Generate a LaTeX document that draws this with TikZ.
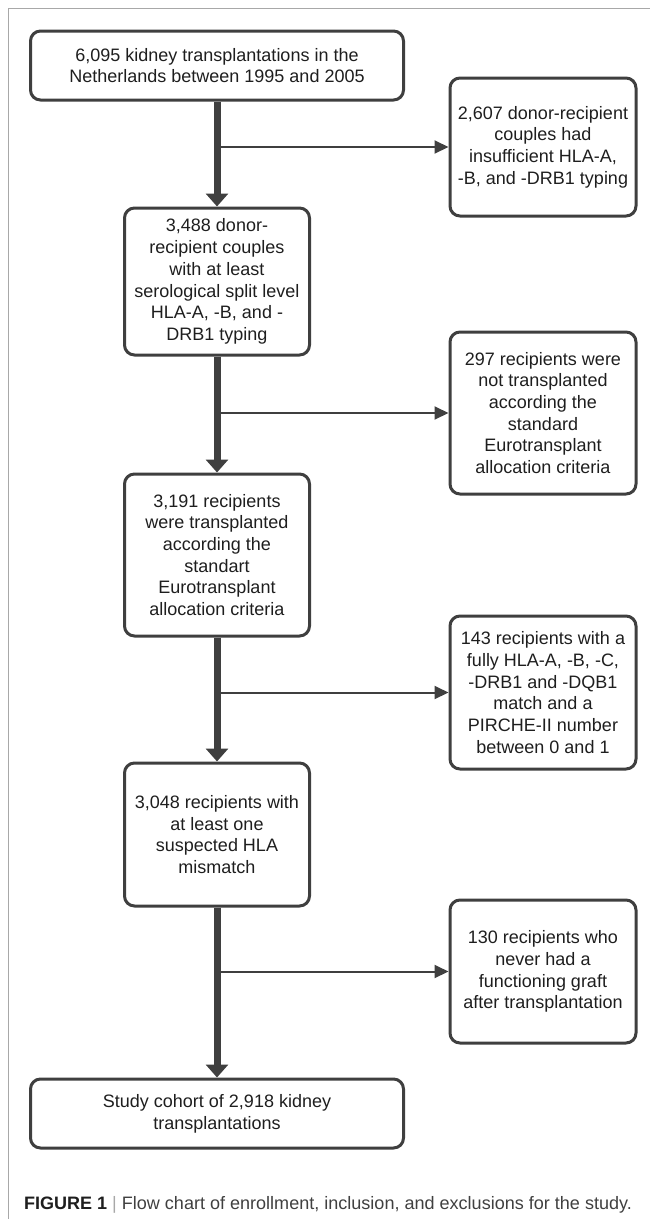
\documentclass[tikz,border=0pt]{standalone}
\usepackage{fontspec}
\setmainfont{Liberation Sans}
\usetikzlibrary{arrows.meta}
\definecolor{boxc}{HTML}{3F3F3F}
\definecolor{framec}{HTML}{A8A8A8}
\definecolor{txtc}{HTML}{1E1E1E}
\begin{document}
\begin{tikzpicture}[x=1pt,y=-1pt,
  flowbox/.style={draw=boxc, line width=3pt, rounded corners=10pt, align=center,
    inner sep=0pt, font=\fontsize{18}{21.7}\selectfont, text=txtc},
  mainarrow/.style={draw=boxc, line width=7pt, -{Triangle[width=22pt,length=13pt]}},
  sidearrow/.style={draw=boxc, line width=2pt, -{Triangle[width=13pt,length=14pt]}},
]
\useasboundingbox (0,0) rectangle (650,1219);
\draw[framec, line width=1.2pt] (650,8.5) -- (8.5,8.5) -- (8.5,1219);

\node[flowbox, minimum width=373pt, minimum height=69pt] (b1) at (217,65.5)
  {6,095 kidney transplantations in the\\Netherlands between 1995 and 2005};
\node[flowbox, minimum width=186pt, minimum height=138pt] (r1) at (543,147)
  {2,607 donor-recipient\\couples had\\insufficient HLA-A,\\-B, and -DRB1 typing};
\node[flowbox, minimum width=185pt, minimum height=147pt] (b2) at (217,281.5)
  {3,488 donor-\\recipient couples\\with at least\\serological split level\\HLA-A, -B, and -\\DRB1 typing};
\node[flowbox, minimum width=186pt, minimum height=162pt] (r2) at (543,413)
  {297 recipients were\\not transplanted\\according the\\standard\\Eurotransplant\\allocation criteria};
\node[flowbox, minimum width=185pt, minimum height=162pt] (b3) at (217,555)
  {3,191 recipients\\were transplanted\\according the\\standart\\Eurotransplant\\allocation criteria};
\node[flowbox, minimum width=186pt, minimum height=153pt] (r3) at (543,692.5)
  {143 recipients with a\\fully HLA-A, -B, -C,\\-DRB1 and -DQB1\\match and a\\PIRCHE-II number\\between 0 and 1};
\node[flowbox, minimum width=185pt, minimum height=143pt] (b4) at (217,834.5)
  {3,048 recipients with\\at least one\\suspected HLA\\mismatch};
\node[flowbox, minimum width=186pt, minimum height=143pt] (r4) at (543,971.5)
  {130 recipients who\\never had a\\functioning graft\\after transplantation};
\node[flowbox, minimum width=373pt, minimum height=69pt] (b5) at (217,1113.5)
  {Study cohort of 2,918 kidney\\transplantations};

\draw[mainarrow] (b1) -- (b2);
\draw[mainarrow] (b2) -- (b3);
\draw[mainarrow] (b3) -- (b4);
\draw[mainarrow] (b4) -- (b5);

\draw[sidearrow] (b1.south |- r1.west) -- (r1.west);
\draw[sidearrow] (b2.south |- r2.west) -- (r2.west);
\draw[sidearrow] (b3.south |- r3.west) -- (r3.west);
\draw[sidearrow] (b4.south |- r4.west) -- (r4.west);

\node[anchor=base west, inner sep=0pt, font=\fontsize{18}{21}\selectfont, text=txtc] (cap) at (24,1209)
  {\textbf{FIGURE 1} {\color{framec}|} \textcolor{txtc!85}{\resizebox{510pt}{\height}{Flow chart of enrollment, inclusion, and exclusions for the study.}}};
\end{tikzpicture}
\end{document}
